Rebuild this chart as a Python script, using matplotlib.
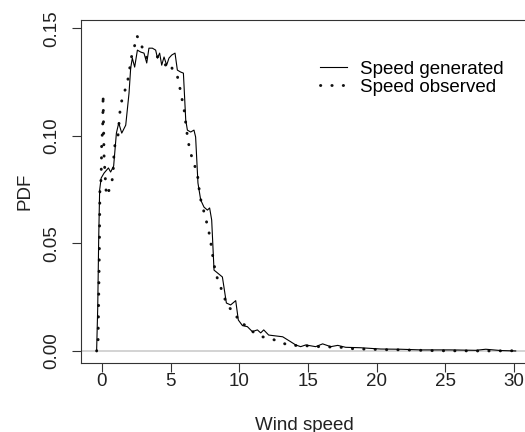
import matplotlib
matplotlib.use("Agg")
import matplotlib.pyplot as plt

plt.rcParams["font.family"] = ["Liberation Sans", "DejaVu Sans"]

# generated speed density (solid)
gen_x = [-0.39, -0.31, -0.24, -0.17, -0.06, 0.15, 0.47, 0.63, 0.85, 1.05, 1.22, 1.44,
         1.73, 1.97, 2.09, 2.21, 2.38, 2.58, 2.82, 3.06, 3.26, 3.42, 3.67, 3.91, 4.04,
         4.20, 4.35, 4.52, 4.71, 4.88, 5.08, 5.32, 5.49, 5.73, 5.93, 6.10, 6.22, 6.46,
         6.70, 6.82, 6.99, 7.19, 7.43, 7.68, 7.84, 7.99, 8.16, 8.41, 8.77, 9.06, 9.37,
         9.74, 9.93, 10.23, 10.59, 10.95, 11.32, 11.56, 11.78, 12.14, 13.16, 13.74,
         14.11, 14.47, 14.84, 15.56, 16.07, 16.66, 17.17, 17.75, 18.84, 20.30, 21.76,
         23.21, 25.40, 27.22, 27.95, 29.04, 30.13]
gen_y = [0.0, 0.020, 0.0516, 0.0748, 0.0804, 0.0827, 0.0851, 0.0832, 0.0860, 0.1013,
         0.1060, 0.1013, 0.1050, 0.1199, 0.1315, 0.1362, 0.1320, 0.1399, 0.1390, 0.1385,
         0.1339, 0.1408, 0.1408, 0.1399, 0.1362, 0.1385, 0.1329, 0.1367, 0.1329, 0.1362,
         0.1376, 0.1385, 0.1306, 0.1297, 0.1292, 0.1074, 0.1027, 0.1018, 0.1027, 0.0995,
         0.0781, 0.0702, 0.0669, 0.0655, 0.0665, 0.0609, 0.0376, 0.0363, 0.0344, 0.0223,
         0.0214, 0.0234, 0.0144, 0.0118, 0.0113, 0.0090, 0.0098, 0.0084, 0.0098, 0.0074,
         0.0066, 0.0043, 0.0028, 0.0020, 0.0028, 0.0020, 0.0033, 0.0020, 0.0026, 0.0017,
         0.0015, 0.0009, 0.0008, 0.0005, 0.0005, 0.0003, 0.0008, 0.0002, 0.0]

# observed speed density (dotted)
obs_x = [-0.39, -0.29, -0.24, -0.19, -0.15, -0.095, -0.044, -0.022, 0.05, 0.07, 0.08,
         0.15, 0.22, 0.32, 0.58, 0.80, 0.87, 0.95, 1.17, 1.31, 1.44, 1.68, 1.89, 2.02,
         2.14, 2.36, 2.53, 2.72, 2.82, 2.99, 3.26, 3.67, 4.04, 4.40, 4.64, 5.00, 5.20,
         5.49, 5.66, 5.81, 5.97, 6.17, 6.29, 6.46, 6.70, 6.95, 7.14, 7.55, 7.75, 7.90,
         8.01, 8.14, 8.28, 8.55, 8.84, 9.13, 9.67, 9.98, 10.47, 11.07, 11.68, 12.34,
         12.96, 13.62, 14.42, 15.80, 17.39, 18.11, 18.97, 20.54, 22.0, 24.43, 27.8, 30.0]
obs_y = [0.0, 0.0025, 0.0237, 0.0469, 0.0753, 0.0758, 0.0861, 0.0967, 0.1037, 0.1120,
         0.1193, 0.0911, 0.0827, 0.0722, 0.0756, 0.0810, 0.0911, 0.0962, 0.1004, 0.1112,
         0.1163, 0.1213, 0.1263, 0.1314, 0.1365, 0.1414, 0.1466, 0.1449, 0.1430, 0.1402,
         0.1363, 0.1368, 0.1368, 0.1345, 0.1329, 0.1340, 0.1291, 0.1278, 0.1228, 0.1177,
         0.1128, 0.1023, 0.0970, 0.0919, 0.0872, 0.0823, 0.0717, 0.0617, 0.0566, 0.0516,
         0.0465, 0.0412, 0.0361, 0.0311, 0.0265, 0.0206, 0.0183, 0.0133, 0.0119, 0.0085,
         0.0066, 0.0056, 0.0043, 0.0025, 0.0026, 0.0020, 0.0017, 0.0011, 0.0009, 0.0006,
         0.0005, 0.0001, 0.0, 0.0001]

x_ticks = [0, 5, 10, 15, 20, 25, 30]
y_ticks = [0.00, 0.05, 0.10, 0.15]
y_ticklabels = ["0.00", "0.05", "0.10", "0.15"]

fig = plt.figure(figsize=(5.25, 4.32), dpi=100)
ax = fig.add_axes([0.1537, 0.1597, 0.867, 0.794])

ax.axhline(0, color="#d0d0d0", lw=1.3, zorder=1)
ax.plot(gen_x, gen_y, color="black", lw=0.8, label="Speed generated", zorder=3)
ax.plot(obs_x, obs_y, color="#111111", lw=2.1, ls=(0, (0.1, 3.8)),
        dash_capstyle="round", label="Speed observed", zorder=2)

ax.set_xlim(-1.55, 31.6)
ax.set_ylim(-0.0056, 0.1539)
ax.set_xticks(x_ticks)
ax.set_yticks(y_ticks)
ax.set_yticklabels(y_ticklabels, rotation=90, va="center")

for sp in ax.spines.values():
    sp.set_linewidth(0.8)
    sp.set_color("#333333")
ax.tick_params(direction="out", length=6.5, width=0.8, color="#333333",
               labelsize=13.5, labelcolor="#222222")
ax.tick_params(axis="x", pad=1)
ax.tick_params(axis="y", pad=8)

ax.set_xlabel("Wind speed", fontsize=13.5, color="#222222")
ax.set_ylabel("PDF", fontsize=13.5, color="#222222")
ax.xaxis.set_label_coords(0.4907, -0.156)
ax.yaxis.set_label_coords(-0.1026, 0.5)

ax.legend(loc="upper left", bbox_to_anchor=(0.5258, 0.882), frameon=False,
          fontsize=13.5, handlelength=1.42, handletextpad=0.71,
          labelspacing=0.07, borderpad=0, borderaxespad=0)

fig.savefig("out.png", dpi=100)
